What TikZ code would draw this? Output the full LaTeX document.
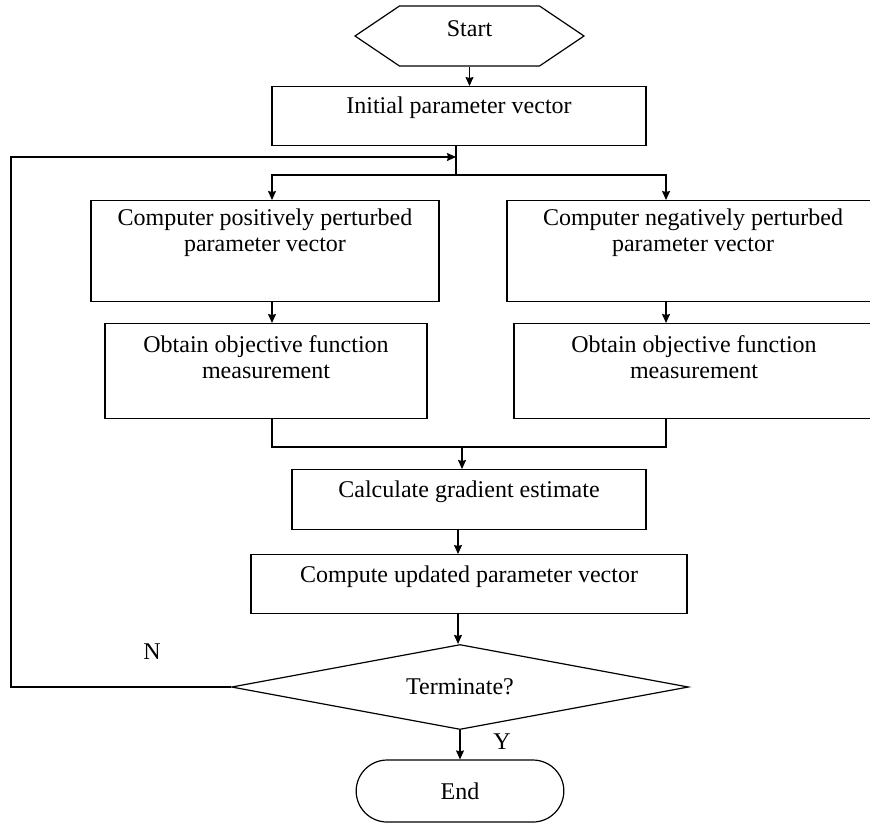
\documentclass[tikz,border=0pt]{standalone}
\usepackage{fontspec}
\setmainfont{Liberation Serif}
\usetikzlibrary{shapes.geometric,shapes.symbols,shapes.misc,arrows.meta}

\begin{document}
\begin{tikzpicture}[x=0.5pt, y=-0.5pt, >={Stealth[length=4.5pt,width=4pt,inset=0.5pt]}, line width=0.6pt,
        font=\fontsize{12}{13}\selectfont,
        stepbox/.style={draw, rectangle, align=center, inner ysep=0pt, anchor=north},
        tag/.style={inner sep=0pt}]
    \clip (0,0) rectangle (870,825);

    \node[draw, signal, signal to=east and west, signal pointer angle=68, text height=8pt, text depth=8pt,
        minimum width=114.5pt, minimum height=30pt, inner sep=0pt] (start) at (469.5,36) {Start};
    \node[stepbox, minimum width=187pt, text height=13.5pt, text depth=16pt] (init) at (459,86) {Initial parameter vector};

    \node[stepbox, minimum width=174pt, text height=25.5pt, text depth=25pt] (posvec) at (265,200)
        {Computer positively perturbed\\parameter vector};
    \node[stepbox, minimum width=186pt, text height=25.5pt, text depth=25pt] (negvec) at (693,200)
        {Computer negatively perturbed\\parameter vector};
    \node[stepbox, minimum width=161pt, text height=27.5pt, text depth=20pt] (posobj) at (266,323)
        {Obtain objective function\\measurement};
    \node[stepbox, minimum width=180pt, text height=27.5pt, text depth=20pt] (negobj) at (694,323)
        {Obtain objective function\\measurement};

    \node[stepbox, minimum width=177pt, text height=14pt, text depth=16pt] (grad) at (469,469) {Calculate gradient estimate};
    \node[stepbox, minimum width=218pt, text height=14pt, text depth=15.5pt] (update) at (469,554) {Compute updated parameter vector};
    \node[draw, diamond, aspect=5.4, minimum width=228.5pt, minimum height=42.5pt, inner sep=0pt] (term) at (460,687) {Terminate?};
    \node[draw, rounded rectangle, minimum width=110.5pt, minimum height=31pt] (stop) at (460,791) {End};

    \node[tag] (no) at (152,652) {N};
    \node[tag] (yes) at (502,742) {Y};

    \coordinate (fork) at (456,175);
    \coordinate (loop) at (11,157);
    \coordinate (join) at (462,447);
    \coordinate (lcol) at (272,0);
    \coordinate (rcol) at (666,0);
    \coordinate (mcol) at (458,0);

    \draw[->] (start.south) -- (start.south |- init.north);
    \draw (init.south -| fork) -- (fork);
    \draw[->] (term.west) -| (loop) -- (loop -| fork);
    \draw[->] (fork) -| (posvec.north -| lcol);
    \draw[->] (fork) -| (negvec.north -| rcol);
    \draw[->] (posvec.south -| lcol) -- (posobj.north -| lcol);
    \draw[->] (negvec.south -| rcol) -- (negobj.north -| rcol);
    \draw (posobj.south -| lcol) -- (lcol |- join) -- (rcol |- join) -- (negobj.south -| rcol);
    \draw[->] (join) -- (join |- grad.north);
    \draw[->] (grad.south -| mcol) -- (update.north -| mcol);
    \draw[->] (update.south -| mcol) -- (term.north -| mcol);
    \draw[->] (term.south) -- (stop.north);
\end{tikzpicture}
\end{document}
